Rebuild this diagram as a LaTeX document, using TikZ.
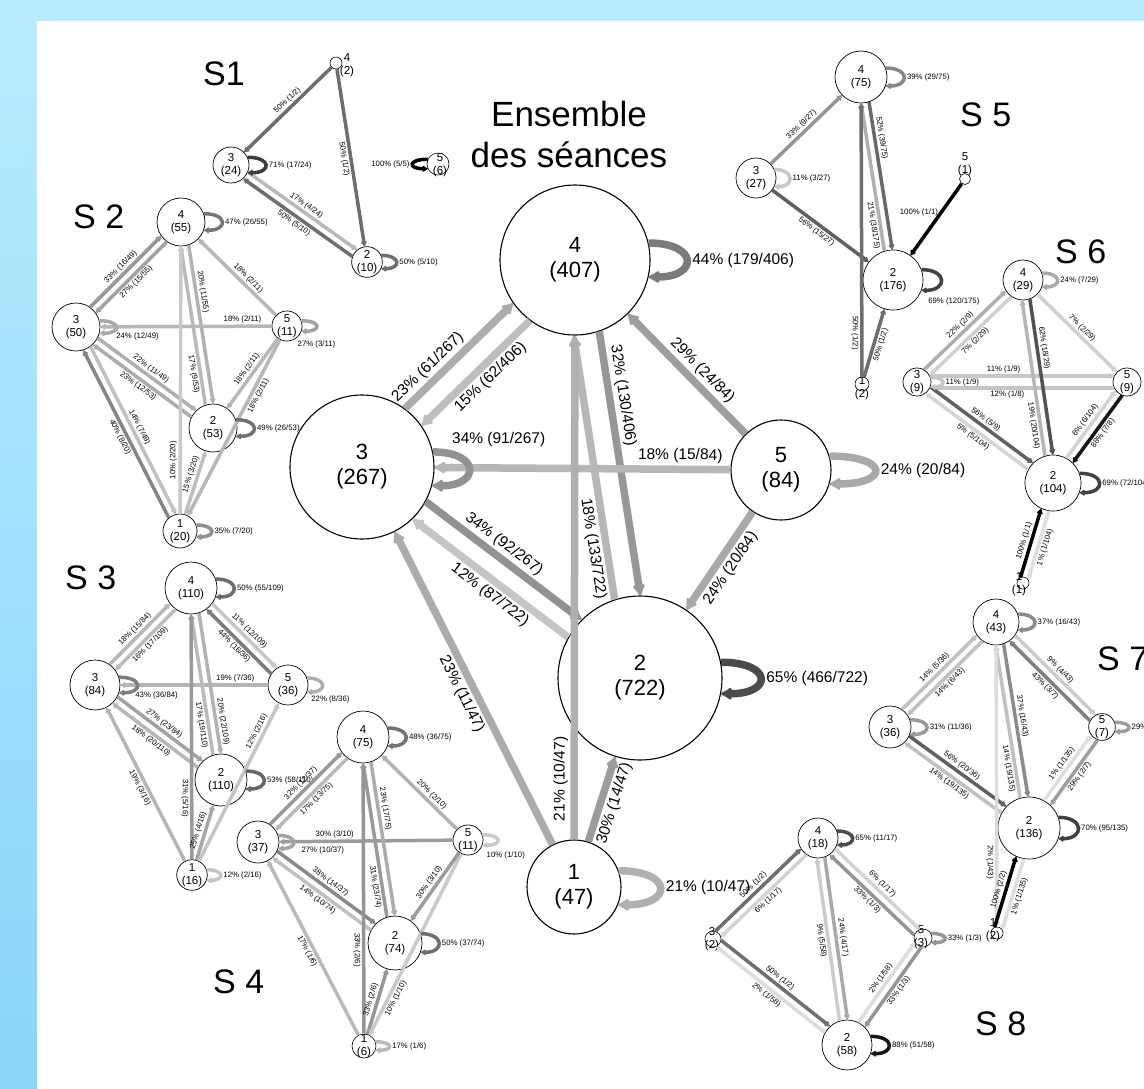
\documentclass[tikz,border=0pt]{standalone}
\usepackage{fontspec}
\setmainfont{Liberation Sans}
\usetikzlibrary{arrows.meta, calc}

\definecolor{fondbleu}{RGB}{185,235,255}
\definecolor{fondbleufonce}{RGB}{138,214,249}

\tikzset{
    etat/.style = {circle, draw, fill=white, align=center, inner sep=0pt, line width=0.7pt},
    grandetat/.style = {etat, line width=1.1pt, font=\fontsize{22}{25}\selectfont},
    petitetat/.style = {etat, font=\fontsize{11.5}{12.5}\selectfont},
    pastille/.style = {circle, draw, fill=white, inner sep=0pt, line width=0.6pt},
    nom/.style = {align=center, inner sep=0pt, font=\fontsize{11.5}{12.5}\selectfont},
    titre/.style = {anchor=base west, inner sep=0pt, font=\fontsize{34}{40}\selectfont},
    teinte/.style = {/utils/exec={\pgfmathsetmacro\teinteval{min(100,12+0.9*#1)}\colorlet{teintecol}{black!\teinteval}}, draw=teintecol},
    trans/.style = {teinte=#1, line width=3.5pt, -{Latex[round, length=6pt, width=7.5pt]}},
    grandtrans/.style = {teinte=#1, line width=7.5pt, -{Latex[round, length=13pt, width=15pt]}},
    % aller et retour : deux traits droits decales
    paire/.style = {to path={
        let \p1 = ($(\tikztostart.center)!#1pt!90:(\tikztotarget.center)$),
            \p2 = ($(\tikztotarget.center)!#1pt!-90:(\tikztostart.center)$),
            \p3 = ($(\tikztostart.east)-(\tikztostart.center)$),
            \p4 = ($(\tikztotarget.east)-(\tikztotarget.center)$)
        in ($(\p1)!{sqrt(\x3*\x3-#1*#1)}!(\p2)$) -- ($(\p2)!{sqrt(\x4*\x4-#1*#1)}!(\p1)$) \tikztonodes}},
    lab/.style = {font=\fontsize{7.8}{9}\selectfont, inner sep=1.5pt},
    grandlab/.style = {font=\fontsize{15.5}{17}\selectfont, inner sep=2.5pt}
}

\begin{document}
\begin{tikzpicture}[x=1pt, y=1pt]
\useasboundingbox (0,0) rectangle (1144,-1088);

% fond
\fill[fondbleu] (0,0) rectangle (1144,-1088);
\shade[top color=fondbleu, bottom color=fondbleufonce] (0,-21) rectangle (37,-1088);
\fill[white] (37,-21) rectangle (1144,-1088);

% --- ENSEMBLE DES SEANCES ---
\node[anchor=north, align=center, inner sep=0pt, font=\fontsize{35}{41}\selectfont] (ens) at (569,-101) {Ensemble\\des séances};

\node[grandetat, minimum size=150pt] (m4) at (575,-260) {4\\(407)};
\node[grandetat, minimum size=144pt] (m3) at (362,-467) {3\\(267)};
\node[grandetat, minimum size=100pt] (m5) at (781,-470) {5\\(84)};
\node[grandetat, minimum size=164pt] (m2) at (640,-678) {2\\(722)};
\node[grandetat, minimum size=94pt] (m1) at (574,-887) {1\\(47)};

\draw[grandtrans=23] (m3) to[paire=12] node[grandlab, sloped, above, pos=.3] {23\% (61/267)} (m4);
\draw[grandtrans=15] (m4) to[paire=12] node[grandlab, sloped, below, pos=.45] {15\% (62/406)} (m3);
\draw[grandtrans=34] (m3) to[paire=11] node[grandlab, sloped, above, pos=.45] {34\% (92/267)} (m2);
\draw[grandtrans=12] (m2) to[paire=11] node[grandlab, sloped, below, pos=.45] {12\% (87/722)} (m3);
\draw[grandtrans=32] (m4) to[paire=13] node[grandlab, sloped, above, pos=.25] {32\% (130/406)} (m2);
\draw[grandtrans=18] (m2) to[paire=13] node[grandlab, sloped, below, pos=.2] {18\% (133/722)} (m4);
\draw[grandtrans=29] (m5) -- node[grandlab, sloped, above, pos=.45] {29\% (24/84)} (m4);
\draw[grandtrans=18] (m5) -- node[grandlab, sloped, above, pos=.17] {18\% (15/84)} (m3);
\draw[grandtrans=24] (m5) -- node[grandlab, sloped, below] {24\% (20/84)} (m2);
\draw[grandtrans=23] (m1) -- node[grandlab, sloped, below] {23\% (11/47)} (m3);
\draw[grandtrans=21] (m1) -- node[grandlab, sloped, above, pos=.12] {21\% (10/47)} (m4);
\draw[grandtrans=30] (m1) -- node[grandlab, sloped, below] {30\% (14/47)} (m2);

% boucles
\draw[grandtrans=44] (m4.13) .. controls +(50,0) and +(50,0) .. (m4.-13) node[grandlab, right, pos=.5] {44\% (179/406)};
\draw[grandtrans=65] (m2.11) .. controls +(52,0) and +(52,0) .. (m2.-11) node[grandlab, right, pos=.5] {65\% (466/722)};
\draw[grandtrans=24] (m5.16) .. controls +(60,0) and +(60,0) .. (m5.-16) node[grandlab, right, pos=.5] {24\% (20/84)};
\draw[grandtrans=21] (m1.20) .. controls +(55,0) and +(55,0) .. (m1.-22) node[grandlab, right, pos=.5] {21\% (10/47)};
\draw[grandtrans=34] (m3.12) .. controls +(48,0) and +(48,0) .. (m3.-15) node[grandlab, anchor=south west, pos=.1] {34\% (91/267)};

% --- S1 ---
\node[titre] (t1) at (203,-85) {S1};
\node[pastille, minimum size=12pt] (s1n4) at (336,-63) {};
\node[nom] (s1l4) at (347,-65) {4\\(2)};
\node[petitetat, minimum size=36pt] (s1n3) at (231,-165) {3\\(24)};
\node[petitetat, minimum size=28pt] (s1n2) at (367,-262) {2\\(10)};
\node[pastille, minimum size=22pt] (s1n5) at (438,-164) {};
\node[nom] (s1l5) at (440,-165) {5\\(6)};

\draw[trans=50] (s1n4) -- node[lab, sloped, above, pos=.45] {50\% (1/2)} (s1n3);
\draw[trans=50] (s1n4) -- node[lab, sloped, below] {50\% (1/2)} (s1n2);
\draw[trans=17] (s1n3) to[paire=4] node[lab, sloped, above] {17\% (4/24)} (s1n2);
\draw[trans=50] (s1n2) to[paire=4] node[lab, sloped, below] {50\% (5/10)} (s1n3);
\draw[trans=71] (s1n3.25) .. controls +(24,0) and +(24,0) .. (s1n3.-25) node[lab, right, pos=.5] {71\% (17/24)};
\draw[trans=50] (s1n2.25) .. controls +(20,0) and +(20,0) .. (s1n2.-25) node[lab, right, pos=.5] {50\% (5/10)};
\draw[trans=100] (s1n5.155) .. controls +(-20,0) and +(-20,0) .. (s1n5.205) node[lab, left, pos=.5] {100\% (5/5)};

% --- S 2 ---
\node[titre] (t2) at (73,-228) {S 2};
\node[petitetat, minimum size=48pt] (s2n4) at (181,-222) {4\\(55)};
\node[petitetat, minimum size=48pt] (s2n3) at (76,-327) {3\\(50)};
\node[petitetat, minimum size=30pt] (s2n5) at (287,-326) {5\\(11)};
\node[petitetat, minimum size=48pt] (s2n2) at (213,-428) {2\\(53)};
\node[petitetat, minimum size=34pt] (s2n1) at (180,-531) {1\\(20)};

\draw[trans=33] (s2n3) to[paire=4] node[lab, sloped, above] {33\% (16/49)} (s2n4);
\draw[trans=27] (s2n4) to[paire=4] node[lab, sloped, below] {27\% (15/55)} (s2n3);
\draw[trans=20] (s2n4) to[paire=4] node[lab, sloped, above, pos=.3] {20\% (11/55)} (s2n2);
\draw[trans=17] (s2n2) to[paire=4] node[lab, sloped, below, pos=.2] {17\% (9/53)} (s2n4);
\draw[trans=18] (s2n5) -- node[lab, sloped, above, pos=.42] {18\% (2/11)} (s2n4);
\draw[trans=18] (s2n5) -- node[lab, sloped, above, pos=.17] {18\% (2/11)} (s2n3);
\draw[trans=22] (s2n3) to[paire=4] node[lab, sloped, above] {22\% (11/49)} (s2n2);
\draw[trans=23] (s2n2) to[paire=4] node[lab, sloped, below] {23\% (12/53)} (s2n3);
\draw[trans=18] (s2n5) -- node[lab, sloped, above] {18\% (2/11)} (s2n2);
\draw[trans=18] (s2n5) -- node[lab, sloped, below, pos=.3] {18\% (2/11)} (s2n1);
\draw[trans=40] (s2n1) to[paire=4] node[lab, sloped, below] {40\% (8/20)} (s2n3);
\draw[trans=14] (s2n3) to[paire=4] node[lab, sloped, above] {14\% (7/49)} (s2n1);
\draw[trans=10] (s2n1) -- node[lab, sloped, above, pos=.2] {10\% (2/20)} (s2n4);
\draw[trans=15] (s2n1) -- node[lab, sloped, above, pos=.6] {15\% (3/20)} (s2n2);
\draw[trans=47] (s2n4.20) .. controls +(24,0) and +(24,0) .. (s2n4.-20) node[lab, right, pos=.5] {47\% (26/55)};
\draw[trans=24] (s2n3.15) .. controls +(22,0) and +(22,0) .. (s2n3.-15) node[lab, anchor=north west, pos=.5, xshift=-3pt, yshift=-3pt] {24\% (12/49)};
\draw[trans=27] (s2n5.20) .. controls +(20,0) and +(20,0) .. (s2n5.-20) node[lab, anchor=north west, pos=.5, xshift=-22pt, yshift=-12pt] {27\% (3/11)};
\draw[trans=49] (s2n2.20) .. controls +(24,0) and +(24,0) .. (s2n2.-20) node[lab, right, pos=.5] {49\% (26/53)};
\draw[trans=35] (s2n1.20) .. controls +(20,0) and +(20,0) .. (s2n1.-20) node[lab, right, pos=.5] {35\% (7/20)};

% --- S 3 ---
\node[titre] (t3) at (65,-589) {S 3};
\node[petitetat, minimum size=52pt] (s3n4) at (191,-588) {4\\(110)};
\node[petitetat, minimum size=50pt] (s3n3) at (95,-685) {3\\(84)};
\node[petitetat, minimum size=40pt] (s3n5) at (288,-685) {5\\(36)};
\node[petitetat, minimum size=52pt] (s3n2) at (221,-780) {2\\(110)};
\node[petitetat, minimum size=30pt] (s3n1) at (192,-875) {1\\(16)};

\draw[trans=18] (s3n3) to[paire=4] node[lab, sloped, above] {18\% (15/84)} (s3n4);
\draw[trans=16] (s3n4) to[paire=4] node[lab, sloped, below] {16\% (17/109)} (s3n3);
\draw[trans=11] (s3n4) to[paire=4] node[lab, sloped, above] {11\% (12/109)} (s3n5);
\draw[trans=44] (s3n5) to[paire=4] node[lab, sloped, below] {44\% (16/36)} (s3n4);
\draw[trans=19] (s3n5) -- node[lab, sloped, above, pos=.22] {19\% (7/36)} (s3n3);
\draw[trans=27] (s3n3) to[paire=4] node[lab, sloped, above] {27\% (23/84)} (s3n2);
\draw[trans=18] (s3n2) to[paire=4] node[lab, sloped, below] {18\% (20/110)} (s3n3);
\draw[trans=20] (s3n4) to[paire=4] node[lab, sloped, above, pos=.78] {20\% (22/109)} (s3n2);
\draw[trans=17] (s3n2) to[paire=4] node[lab, sloped, below, pos=.22] {17\% (19/110)} (s3n4);
\draw[trans=31] (s3n1) -- node[lab, sloped, below, pos=.25] {31\% (5/16)} (s3n4);
\draw[trans=19] (s3n1) -- node[lab, sloped, below] {19\% (3/16)} (s3n3);
\draw[trans=25] (s3n1) -- node[lab, sloped, above] {25\% (4/16)} (s3n2);
\draw[trans=12] (s3n1) -- node[lab, sloped, above, pos=.8] {12\% (2/16)} (s3n5);
\draw[trans=50] (s3n4.20) .. controls +(24,0) and +(24,0) .. (s3n4.-20) node[lab, right, pos=.5] {50\% (55/109)};
\draw[trans=43] (s3n3.18) .. controls +(24,0) and +(24,0) .. (s3n3.-18) node[lab, anchor=north west, pos=.5, xshift=-5pt, yshift=-4pt] {43\% (36/84)};
\draw[trans=22] (s3n5.20) .. controls +(20,0) and +(20,0) .. (s3n5.-20) node[lab, anchor=north west, pos=.5, xshift=-14pt, yshift=-8pt] {22\% (8/36)};
\draw[trans=53] (s3n2.20) .. controls +(24,0) and +(24,0) .. (s3n2.-20) node[lab, right, pos=.5] {53\% (58/110)};
\draw[trans=12] (s3n1.20) .. controls +(18,0) and +(18,0) .. (s3n1.-20) node[lab, right, pos=.5] {12\% (2/16)};

% --- S 4 ---
\node[titre] (t4) at (213,-993) {S 4};
\node[petitetat, minimum size=52pt] (s4n4) at (363,-737) {4\\(75)};
\node[petitetat, minimum size=42pt] (s4n3) at (258,-842) {3\\(37)};
\node[petitetat, minimum size=28pt] (s4n5) at (468,-840) {5\\(11)};
\node[petitetat, minimum size=54pt] (s4n2) at (395,-943) {2\\(74)};
\node[pastille, minimum size=24pt] (s4n1) at (364,-1046) {};
\node[nom] (s4l1) at (364,-1046) {1\\(6)};

\draw[trans=32] (s4n3) to[paire=4] node[lab, sloped, above] {32\% (12/37)} (s4n4);
\draw[trans=17] (s4n4) to[paire=4] node[lab, sloped, below] {17\% (13/75)} (s4n3);
\draw[trans=20] (s4n5) -- node[lab, sloped, above, pos=.4] {20\% (2/10)} (s4n4);
\draw[trans=30] (s4n5) -- node[lab, sloped, above, pos=.68] {30\% (3/10)} (s4n3);
\draw[trans=38] (s4n3) to[paire=4] node[lab, sloped, above] {38\% (14/37)} (s4n2);
\draw[trans=14] (s4n2) to[paire=4] node[lab, sloped, below] {14\% (10/74)} (s4n3);
\draw[trans=23] (s4n4) to[paire=4] node[lab, sloped, above, pos=.31] {23\% (17/75)} (s4n2);
\draw[trans=31] (s4n2) to[paire=4] node[lab, sloped, below, pos=.2] {31\% (23/74)} (s4n4);
\draw[trans=33] (s4n1) -- node[lab, sloped, below, pos=.31] {33\% (2/6)} (s4n4);
\draw[trans=17] (s4n1) -- node[lab, sloped, below] {17\% (1/6)} (s4n3);
\draw[trans=33] (s4n1) -- node[lab, sloped, above] {33\% (2/6)} (s4n2);
\draw[trans=10] (s4n5) -- node[lab, sloped, below, pos=.78] {10\% (1/10)} (s4n1);
\draw[trans=30] (s4n5) -- node[lab, sloped, above] {30\% (3/10)} (s4n2);
\draw[trans=48] (s4n4.20) .. controls +(24,0) and +(24,0) .. (s4n4.-20) node[lab, right, pos=.5] {48\% (36/75)};
\draw[trans=27] (s4n3.18) .. controls +(20,0) and +(20,0) .. (s4n3.-18) node[lab, anchor=north west, pos=.5, xshift=5pt, yshift=-2pt] {27\% (10/37)};
\draw[trans=10] (s4n5.20) .. controls +(20,0) and +(20,0) .. (s4n5.-20) node[lab, anchor=north west, pos=.5, xshift=-14pt, yshift=-9pt] {10\% (1/10)};
\draw[trans=50] (s4n2.20) .. controls +(24,0) and +(24,0) .. (s4n2.-20) node[lab, right, pos=.5] {50\% (37/74)};
\draw[trans=17] (s4n1.20) .. controls +(18,0) and +(18,0) .. (s4n1.-20) node[lab, right, pos=.5] {17\% (1/6)};

% --- S 5 ---
\node[titre] (t5) at (960,-126) {S 5};
\node[petitetat, minimum size=52pt] (s5n4) at (861,-77) {4\\(75)};
\node[petitetat, minimum size=40pt] (s5n3) at (756,-178) {3\\(27)};
\node[petitetat, minimum size=60pt] (s5n2) at (893,-280) {2\\(176)};
\node[pastille, minimum size=14pt] (s5n1) at (862,-384) {};
\node[nom] (s5l1) at (862,-388) {1\\(2)};
\node[pastille, minimum size=11pt] (s5n5) at (965,-179) {};
\node[nom] (s5l5) at (965,-164) {5\\(1)};

\draw[trans=33] (s5n3) -- node[lab, sloped, above] {33\% (9/27)} (s5n4);
\draw[trans=56] (s5n3) -- node[lab, sloped, below] {56\% (15/27)} (s5n2);
\draw[trans=52] (s5n4) to[paire=4] node[lab, sloped, above, pos=.25] {52\% (39/75)} (s5n2);
\draw[trans=21] (s5n2) to[paire=4] node[lab, sloped, below, pos=.18] {21\% (38/175)} (s5n4);
\draw[trans=50] (s5n1) -- node[lab, sloped, below, pos=.16] {50\% (1/2)} (s5n4);
\draw[trans=50] (s5n1) -- node[lab, sloped, below] {50\% (1/2)} (s5n2);
\draw[trans=100] (s5n5) -- node[lab, left, pos=.4] {100\% (1/1)} (s5n2);
\draw[trans=39] (s5n4.20) .. controls +(24,0) and +(24,0) .. (s5n4.-20) node[lab, right, pos=.5] {39\% (29/75)};
\draw[trans=11] (s5n3.25) .. controls +(20,0) and +(20,0) .. (s5n3.-25) node[lab, right, pos=.5] {11\% (3/27)};
\draw[trans=69] (s5n2.20) .. controls +(26,0) and +(26,0) .. (s5n2.-20) node[lab, anchor=north west, pos=.5, xshift=-16pt, yshift=-15pt] {69\% (120/175)};

% --- S 6 ---
\node[titre] (t6) at (1055,-263) {S 6};
\node[petitetat, minimum size=40pt] (s6n4) at (1023,-280) {4\\(29)};
\node[petitetat, minimum size=28pt] (s6n3) at (917,-382) {3\\(9)};
\node[petitetat, minimum size=28pt] (s6n5) at (1127,-382) {5\\(9)};
\node[petitetat, minimum size=56pt] (s6n2) at (1053,-483) {2\\(104)};
\node[pastille, minimum size=12pt] (s6n1) at (1023,-583) {};
\node[nom] (s6l1) at (1019,-584) {1\\(1)};

\draw[trans=22] (s6n3) to[paire=4] node[lab, sloped, above] {22\% (2/9)} (s6n4);
\draw[trans=7] (s6n4) to[paire=4] node[lab, sloped, below] {7\% (2/29)} (s6n3);
\draw[trans=7] (s6n4) -- node[lab, sloped, above] {7\% (2/29)} (s6n5);
\draw[trans=11] (s6n3) to[paire=6] node[lab, sloped, above, pos=.4] {11\% (1/9)} (s6n5);
\draw[trans=12] (s6n5) to[paire=6] node[lab, sloped, below, pos=.58] {12\% (1/8)} (s6n3);
\draw[trans=56] (s6n3) to[paire=4] node[lab, sloped, above] {56\% (5/9)} (s6n2);
\draw[trans=5] (s6n2) to[paire=4] node[lab, sloped, below] {5\% (5/104)} (s6n3);
\draw[trans=62] (s6n4) to[paire=4] node[lab, sloped, above, pos=.32] {62\% (18/29)} (s6n2);
\draw[trans=19] (s6n2) to[paire=4] node[lab, sloped, below, pos=.2] {19\% (20/104)} (s6n4);
\draw[trans=6] (s6n2) to[paire=4] node[lab, sloped, above] {6\% (6/104)} (s6n5);
\draw[trans=88] (s6n5) to[paire=4] node[lab, sloped, below] {88\% (7/8)} (s6n2);
\draw[trans=100] (s6n1) to[paire=4] node[lab, sloped, above] {100\% (1/1)} (s6n2);
\draw[trans=1] (s6n2) to[paire=4] node[lab, sloped, below] {1\% (1/104)} (s6n1);
\draw[trans=24] (s6n4.20) .. controls +(20,0) and +(20,0) .. (s6n4.-20) node[lab, right, pos=.5] {24\% (7/29)};
\draw[trans=11] (s6n3.20) .. controls +(16,0) and +(16,0) .. (s6n3.-20) node[lab, right, pos=.5] {11\% (1/9)};
\draw[trans=69] (s6n2.20) .. controls +(26,0) and +(26,0) .. (s6n2.-20) node[lab, right, pos=.5] {69\% (72/104)};

% --- S 7 ---
\node[titre] (t7) at (1097,-670) {S 7};
\node[petitetat, minimum size=46pt] (s7n4) at (996,-622) {4\\(43)};
\node[petitetat, minimum size=42pt] (s7n3) at (890,-727) {3\\(36)};
\node[petitetat, minimum size=26pt] (s7n5) at (1102,-727) {5\\(7)};
\node[petitetat, minimum size=62pt] (s7n2) at (1029,-828) {2\\(136)};
\node[pastille, minimum size=12pt] (s7n1) at (997,-933) {};
\node[nom] (s7l1) at (993,-930) {1\\(2)};

\draw[trans=14] (s7n3) to[paire=4] node[lab, sloped, above] {14\% (5/36)} (s7n4);
\draw[trans=14] (s7n4) to[paire=4] node[lab, sloped, below] {14\% (6/43)} (s7n3);
\draw[trans=9] (s7n4) to[paire=4] node[lab, sloped, above] {9\% (4/43)} (s7n5);
\draw[trans=43] (s7n5) to[paire=4] node[lab, sloped, below] {43\% (3/7)} (s7n4);
\draw[trans=56] (s7n3) to[paire=4] node[lab, sloped, above] {56\% (20/36)} (s7n2);
\draw[trans=14] (s7n2) to[paire=4] node[lab, sloped, below] {14\% (19/135)} (s7n3);
\draw[trans=37] (s7n4) to[paire=4] node[lab, sloped, above, pos=.48] {37\% (16/43)} (s7n2);
\draw[trans=14] (s7n2) to[paire=4] node[lab, sloped, below, pos=.2] {14\% (19/135)} (s7n4);
\draw[trans=2] (s7n4) -- node[lab, sloped, below, pos=.77] {2\% (1/43)} (s7n1);
\draw[trans=100] (s7n1) to[paire=4] node[lab, sloped, above] {100\% (2/2)} (s7n2);
\draw[trans=1] (s7n2) to[paire=4] node[lab, sloped, below] {1\% (1/135)} (s7n1);
\draw[trans=1] (s7n2) to[paire=4] node[lab, sloped, above] {1\% (1/135)} (s7n5);
\draw[trans=29] (s7n5) to[paire=4] node[lab, sloped, below] {29\% (2/7)} (s7n2);
\draw[trans=37] (s7n4.20) .. controls +(22,0) and +(22,0) .. (s7n4.-20) node[lab, right, pos=.5] {37\% (16/43)};
\draw[trans=31] (s7n3.20) .. controls +(22,0) and +(22,0) .. (s7n3.-20) node[lab, right, pos=.5] {31\% (11/36)};
\draw[trans=29] (s7n5.20) .. controls +(18,0) and +(18,0) .. (s7n5.-20) node[lab, right, pos=.5] {29\% (2/7)};
\draw[trans=70] (s7n2.20) .. controls +(26,0) and +(26,0) .. (s7n2.-20) node[lab, right, pos=.5] {70\% (95/135)};

% --- S 8 ---
\node[titre] (t8) at (975,-1035) {S 8};
\node[petitetat, minimum size=40pt] (s8n4) at (818,-838) {4\\(18)};
\node[pastille, minimum size=16pt] (s8n3) at (713,-939) {};
\node[nom] (s8l3) at (712,-939) {3\\(2)};
\node[pastille, minimum size=18pt] (s8n5) at (923,-938) {};
\node[nom] (s8l5) at (921,-937) {5\\(3)};
\node[petitetat, minimum size=50pt] (s8n2) at (847,-1045) {2\\(58)};

\draw[trans=50] (s8n3) to[paire=4] node[lab, sloped, above] {50\% (1/2)} (s8n4);
\draw[trans=6] (s8n4) to[paire=4] node[lab, sloped, below] {6\% (1/17)} (s8n3);
\draw[trans=6] (s8n4) to[paire=4] node[lab, sloped, above] {6\% (1/17)} (s8n5);
\draw[trans=33] (s8n5) to[paire=4] node[lab, sloped, below] {33\% (1/3)} (s8n4);
\draw[trans=9] (s8n2) to[paire=4] node[lab, sloped, below] {9\% (5/58)} (s8n4);
\draw[trans=24] (s8n4) to[paire=4] node[lab, sloped, above] {24\% (4/17)} (s8n2);
\draw[trans=50] (s8n3) to[paire=4] node[lab, sloped, above] {50\% (1/2)} (s8n2);
\draw[trans=2] (s8n2) to[paire=4] node[lab, sloped, below] {2\% (1/58)} (s8n3);
\draw[trans=2] (s8n2) to[paire=4] node[lab, sloped, above] {2\% (1/58)} (s8n5);
\draw[trans=33] (s8n5) to[paire=4] node[lab, sloped, below] {33\% (1/3)} (s8n2);
\draw[trans=65] (s8n4.20) .. controls +(20,0) and +(20,0) .. (s8n4.-20) node[lab, right, pos=.5] {65\% (11/17)};
\draw[trans=33] (s8n5.30) .. controls +(18,0) and +(18,0) .. (s8n5.-30) node[lab, right, pos=.5] {33\% (1/3)};
\draw[trans=88] (s8n2.20) .. controls +(24,0) and +(24,0) .. (s8n2.-20) node[lab, right, pos=.5] {88\% (51/58)};

\end{tikzpicture}
\end{document}
